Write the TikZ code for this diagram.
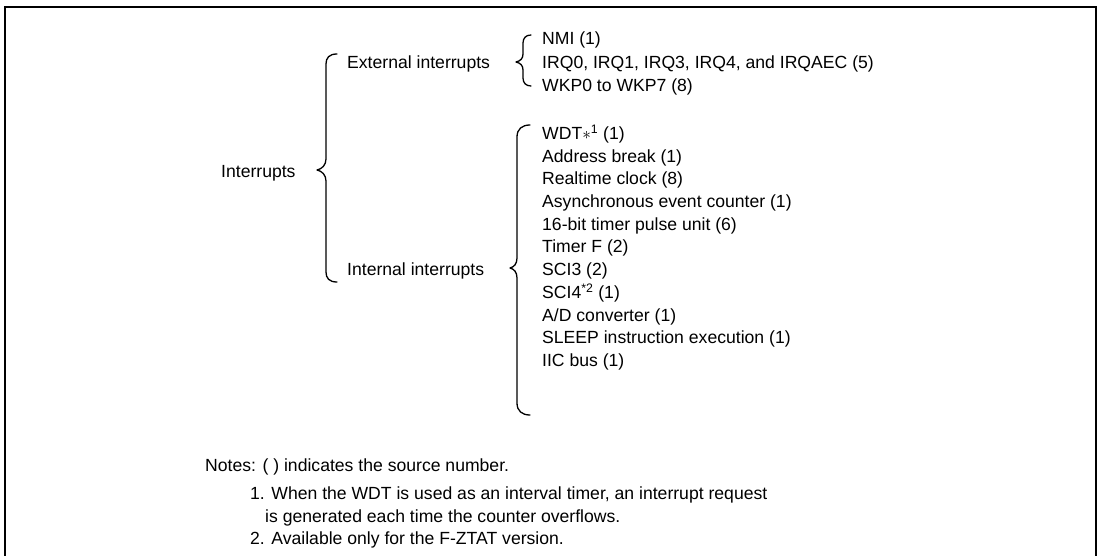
\documentclass[tikz,border=0pt]{standalone}
\usepackage{fontspec}
\setmainfont{Liberation Sans}
\begin{document}
\begin{tikzpicture}[x=1pt,y=-1pt,
  txt/.style={anchor=base west,inner sep=0pt,font=\fontsize{17.6}{22.7}\selectfont},
  brace/.style={line width=1.3pt,line cap=round,line join=round},
  frame/.style={line width=2pt}]
\useasboundingbox (0,0) rectangle (1099,556);
\draw[frame] (5,556) -- (5,7) -- (1096,7) -- (1096,556);
% labels
\node[txt] (intr) at (221,177.4) {Interrupts};
\node[txt] (ext) at (347,68.4) {External interrupts};
\node[txt] (int) at (347,275.4) {Internal interrupts};
% external items
\node[txt] (e1) at (542,44.4) {NMI (1)};
\node[txt] (e2) at (542,68.4) {IRQ0, IRQ1, IRQ3, IRQ4, and IRQAEC (5)};
\node[txt] (e3) at (542,91.4) {WKP0 to WKP7 (8)};
% internal items
\node[txt] (i1) at (542,139.4) {WDT$\ast$\textsuperscript{1} (1)};
\node[txt] (i2) at (542,162.1) {Address break (1)};
\node[txt] (i3) at (542,184.8) {Realtime clock (8)};
\node[txt] (i4) at (542,207.5) {Asynchronous event counter (1)};
\node[txt] (i5) at (542,230.2) {16-bit timer pulse unit (6)};
\node[txt] (i6) at (542,252.9) {Timer F (2)};
\node[txt] (i7) at (542,275.6) {SCI3 (2)};
\node[txt] (i8) at (542,298.3) {SCI4\textsuperscript{*2} (1)};
\node[txt] (i9) at (542,321.0) {A/D converter (1)};
\node[txt] (i10) at (542,343.7) {SLEEP instruction execution (1)};
\node[txt] (i11) at (542,366.4) {IIC bus (1)};
% notes
\node[txt] (n0) at (205,471.4) {Notes: ( ) indicates the source number.};
\node[txt] (n1) at (250,499.4) {1. When the WDT is used as an interval timer, an interrupt request};
\node[txt] (n1b) at (265,522.1) {is generated each time the counter overflows.};
\node[txt] (n2) at (250,544.8) {2. Available only for the F-ZTAT version.};
% braces
\draw[brace] (337,54) .. controls (329,54) and (326,58) .. (326,64)
  -- (326,159) .. controls (326,165) and (322,169) .. (317,170)
  .. controls (322,171) and (326,175) .. (326,181)
  -- (326,272) .. controls (326,278) and (329,282) .. (337,282);
\draw[brace] (531,35) .. controls (526,35) and (523,38) .. (523,43)
  -- (523,54) .. controls (523,59) and (520,61) .. (516,62)
  .. controls (520,63) and (523,65) .. (523,70)
  -- (523,78) .. controls (523,83) and (526,86) .. (531,86);
\draw[brace] (530,125) .. controls (522,125) and (517,129) .. (517,137)
  -- (517,258) .. controls (517,264) and (514,267) .. (510,268)
  .. controls (514,269) and (517,272) .. (517,278)
  -- (517,403) .. controls (517,411) and (522,415) .. (530,415);
\end{tikzpicture}
\end{document}
